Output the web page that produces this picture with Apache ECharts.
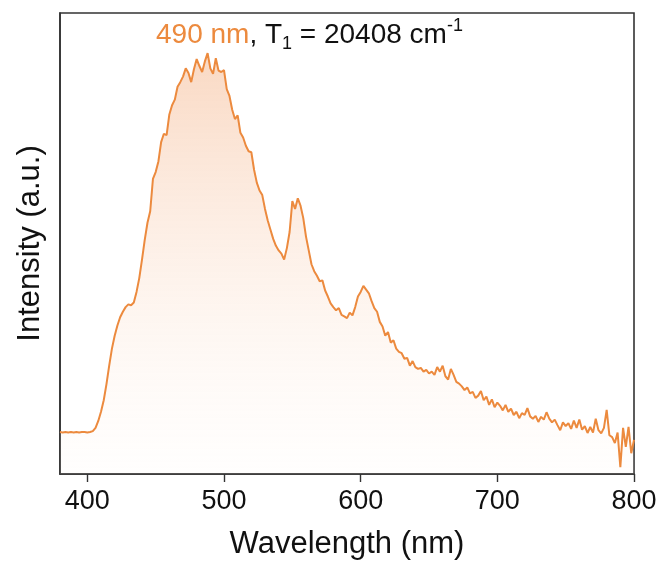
<!DOCTYPE html>
<html>
<head>
<meta charset="utf-8">
<script src="https://cdn.jsdelivr.net/npm/echarts@6/dist/echarts.min.js"></script>
<style>
html,body{margin:0;padding:0;background:#fff;}
#c{width:661px;height:571px;}
</style>
</head>
<body>
<div id="c"></div>
<script>
const wavelength = [380,382,384,386,388,390,392,394,396,398,400,402,404,406,408,410,412,414,416,418,420,422,424,426,428,430,432,434,436,438,440,442,444,446,448,450,452,454,456,458,460,462,464,466,468,470,472,474,476,478,480,482,484,486,488,490,492,494,496,498,500,502,504,506,508,510,512,514,516,518,520,522,524,526,528,530,532,534,536,538,540,542,544,546,548,550,552,554,556,558,560,562,564,566,568,570,572,574,576,578,580,582,584,586,588,590,592,594,596,598,600,602,604,606,608,610,612,614,616,618,620,622,624,626,628,630,632,634,636,638,640,642,644,646,648,650,652,654,656,658,660,662,664,666,668,670,672,674,676,678,680,682,684,686,688,690,692,694,696,698,700,702,704,706,708,710,712,714,716,718,720,722,724,726,728,730,732,734,736,738,740,742,744,746,748,750,752,754,756,758,760,762,764,766,768,770,772,774,776,778,780,782,784,786,788,790,792,794,796,798,800];
const intensity = [91,90,91,90,91,90,91,90,91,91,90,91,93,100,115,135,160,195,235,272,300,322,340,352,362,368,366,372,395,425,465,508,545,570,640,655,678,720,738,735,780,800,812,840,850,862,880,870,850,878,900,885,872,895,913,880,868,902,875,872,876,835,820,790,770,778,740,730,712,700,698,660,632,615,605,575,550,530,510,495,485,478,465,490,525,592,575,598,582,555,515,485,455,440,430,418,420,398,385,370,362,355,360,345,342,338,350,344,362,385,395,408,400,392,375,360,352,330,320,300,308,285,290,272,265,262,250,252,235,245,232,228,230,222,226,218,222,215,232,222,235,212,205,228,215,200,196,190,182,188,175,178,165,170,180,160,168,150,162,145,155,148,138,150,135,142,128,135,121,132,128,143,125,120,126,113,124,118,134,120,112,118,106,95,112,104,110,98,116,100,118,96,104,89,102,90,120,95,88,100,139,84,80,67,90,15,100,59,102,45,74];
const xTicks = [400,500,600,700,800];
const minorTicks = [450,550,650,750];
const titleParts = ['490 nm', ', T', '1', ' = 20408 cm', '-1'];

const chart = echarts.init(document.getElementById('c'));
const data = wavelength.map((w,i)=>[w,intensity[i]]);
const FONT = 'Liberation Sans';
chart.setOption({
  animation:false,
  grid:{left:60,top:13,right:27,bottom:97,show:true,borderColor:'#333',borderWidth:1.6,backgroundColor:'transparent'},
  xAxis:{
    type:'value',min:380,max:800,interval:50,
    name:'Wavelength (nm)',nameLocation:'middle',nameGap:55,
    nameTextStyle:{fontSize:31,color:'#111',fontFamily:FONT},
    axisLine:{show:true,lineStyle:{color:'#333',width:1.6}},
    axisTick:{show:true,length:8,lineStyle:{color:'#333',width:1.4},
      customValues:xTicks},
    axisLabel:{fontSize:27,color:'#111',fontFamily:FONT,margin:14,
      customValues:xTicks},
    splitLine:{show:false}
  },
  yAxis:{
    type:'value',min:0,max:1000,
    name:'Intensity (a.u.)',nameLocation:'middle',nameGap:14,
    nameTextStyle:{fontSize:31,color:'#111',fontFamily:FONT},
    axisLine:{show:true,lineStyle:{color:'#333',width:1.6}},
    axisTick:{show:false},axisLabel:{show:false},splitLine:{show:false}
  },
  series:[{
    type:'line',data:data,showSymbol:false,smooth:false,
    lineStyle:{color:'#EC8A3E',width:2},
    areaStyle:{color:new echarts.graphic.LinearGradient(0,0,0,1,[
      {offset:0,color:'rgba(240,150,90,0.52)'},
      {offset:1,color:'rgba(255,245,238,0.15)'}
    ])},
    z:3
  }],
  graphic:[{
    type:'text',left:156,top:17,z:10,
    style:{
      rich:{
        o:{fontSize:28,fontFamily:FONT,fill:'#EC8A3E',lineHeight:36},
        k:{fontSize:28,fontFamily:FONT,fill:'#111',lineHeight:36},
        sub:{fontSize:18,fontFamily:FONT,fill:'#111',verticalAlign:'bottom',lineHeight:36},
        sup:{fontSize:18,fontFamily:FONT,fill:'#111',verticalAlign:'top',lineHeight:36}
      },
      text:'{o|'+titleParts[0]+'}{k|'+titleParts[1]+'}{sub|'+titleParts[2]+'}{k|'+titleParts[3]+'}{sup|'+titleParts[4]+'}'
    }
  }]
});
const g = [];
minorTicks.forEach(v=>{
  const p = chart.convertToPixel({gridIndex:0},[v,0]);
  g.push({type:'line',shape:{x1:p[0],y1:p[1],x2:p[0],y2:p[1]+4},style:{stroke:'#333',lineWidth:1.4},z:10});
});
const opt = chart.getOption();
chart.setOption({graphic:opt.graphic.concat(g)});
</script>
</body>
</html>
